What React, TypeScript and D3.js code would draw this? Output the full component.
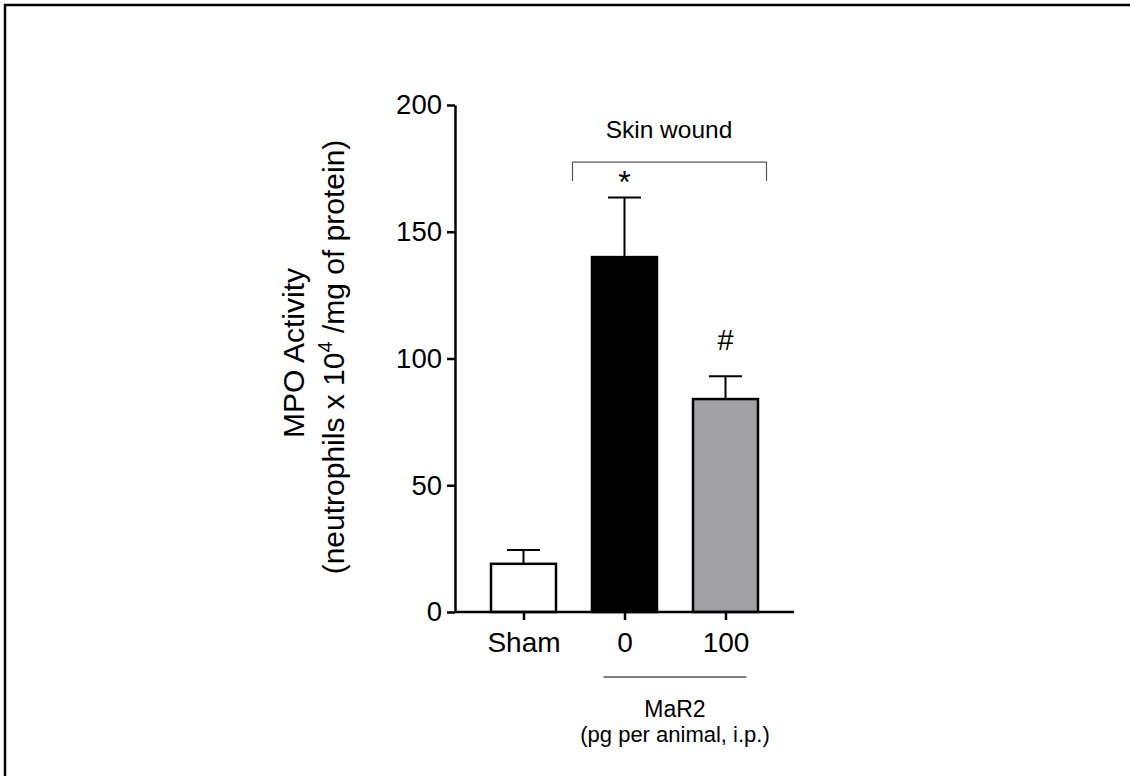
import { useEffect, useRef } from "react";
import * as d3 from "d3";

// values
const groups = ["Sham", "0", "100"];
const means = [19, 140, 84];
const sems = [5.5, 23.5, 9];
const fills = ["#ffffff", "#000000", "#a1a0a5"];
const yTicks = [0, 50, 100, 150, 200];

const W = 1130;
const H = 776;
const FONT = "'Liberation Sans', Arial, sans-serif";

const y = d3.scaleLinear().domain([0, 200]).range([612, 105]);
const x = d3.scalePoint<string>().domain(groups).range([523.5, 725.5]);
const barW = 65;
const capW = 33;

export default function App() {
  const yAxisRef = useRef<SVGGElement>(null);
  const xAxisRef = useRef<SVGGElement>(null);

  useEffect(() => {
    const ya = d3.select(yAxisRef.current!);
    ya.call(d3.axisLeft(y).tickValues(yTicks).tickSize(8).tickSizeOuter(0).tickPadding(5));
    ya.selectAll("path, line").attr("stroke", "#000").attr("stroke-width", 2.5);
    ya.selectAll("text").attr("font-size", 27.5).attr("font-family", FONT).attr("fill", "#000");

    const xa = d3.select(xAxisRef.current!);
    xa.call(d3.axisBottom(x).tickSize(8).tickSizeOuter(0).tickPadding(12));
    xa.select(".domain").remove();
    xa.selectAll("line").attr("stroke", "#000").attr("stroke-width", 2.5);
    xa.selectAll("text").attr("font-size", 28).attr("font-family", FONT).attr("fill", "#000");
  }, []);

  const cx1 = x("0")!;
  const cx2 = x("100")!;

  return (
    <svg
      width={W}
      height={H}
      style={{ position: "absolute", left: 0, top: 0, background: "#fff" }}
      fontFamily={FONT}
    >
      <path d={`M5,${H} L5,5 L${W},5`} fill="none" stroke="#000" strokeWidth={2.5} />

      {/* bars */}
      {groups.map((g, i) => {
        const cx = x(g)!;
        const top = y(means[i]);
        const capY = y(means[i] + sems[i]);
        return (
          <g key={g}>
            <line x1={cx} x2={cx} y1={top} y2={capY} stroke="#000" strokeWidth={2} />
            <line x1={cx - capW / 2} x2={cx + capW / 2} y1={capY} y2={capY} stroke="#000" strokeWidth={2} />
            <rect
              x={cx - barW / 2}
              y={top}
              width={barW}
              height={y(0) - top}
              fill={fills[i]}
              stroke="#000"
              strokeWidth={2.5}
            />
          </g>
        );
      })}

      {/* axes */}
      <g ref={yAxisRef} transform={`translate(455,0)`} />
      <line x1={455} x2={794} y1={y(0)} y2={y(0)} stroke="#000" strokeWidth={2.5} />
      <g ref={xAxisRef} transform={`translate(0,${y(0)})`} />

      {/* y label */}
      <g transform={`translate(304,353) rotate(-90)`}>
        <text textAnchor="middle" fontSize={30}>MPO Activity</text>
      </g>
      <g transform={`translate(344,357) rotate(-90)`}>
        <text textAnchor="middle" fontSize={30}>
          (neutrophils x 10<tspan dy={-12} fontSize={20}>4</tspan>
          <tspan dy={12}> /mg of protein)</tspan>
        </text>
      </g>

      {/* skin wound bracket */}
      <path
        d={`M${cx1 - 52},${y(170)} L${cx1 - 52},${y(177.5)} L${cx2 + 41},${y(177.5)} L${cx2 + 41},${y(170)}`}
        fill="none"
        stroke="#555"
        strokeWidth={1.2}
      />
      <text x={669} y={138} textAnchor="middle" fontSize={24.5}>Skin wound</text>
      <text x={cx1} y={193} textAnchor="middle" fontSize={32}>*</text>
      <text x={cx2} y={350} textAnchor="middle" fontSize={29}>#</text>

      {/* MaR2 group label */}
      <line x1={cx1 - 21} x2={cx2 + 21} y1={677} y2={677} stroke="#000" strokeWidth={1.2} />
      <text x={675} y={717} textAnchor="middle" fontSize={23}>MaR2</text>
      <text x={675} y={742} textAnchor="middle" fontSize={22}>(pg per animal, i.p.)</text>
    </svg>
  );
}
